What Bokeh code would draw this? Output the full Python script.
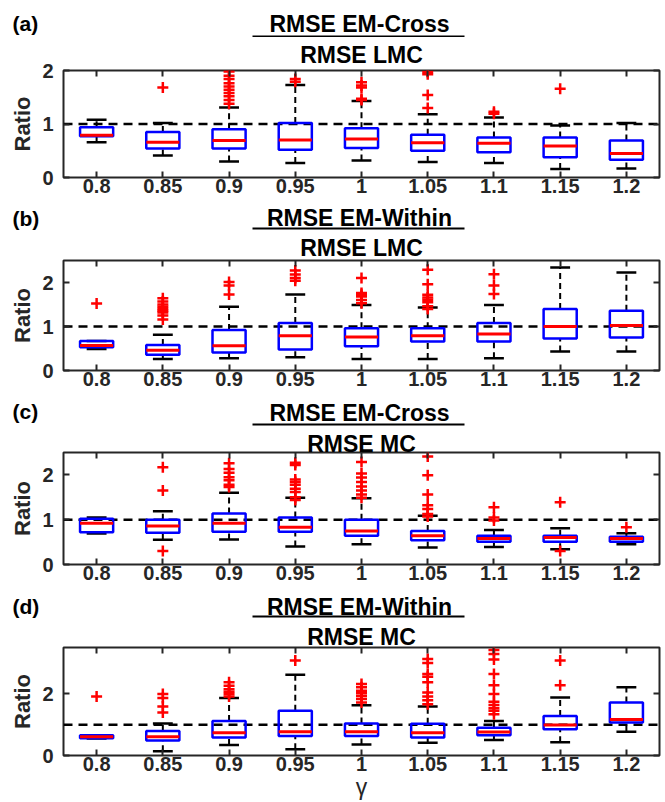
from bokeh.plotting import figure
from bokeh.layouts import column
from bokeh.models import Range1d, FixedTicker, LinearAxis, Label, Span
from bokeh.embed import file_html
from bokeh.resources import INLINE

gammas = ["0.8", "0.85", "0.9", "0.95", "1", "1.05", "1.1", "1.15", "1.2"]

# Panel (a): RMSE EM-Cross / RMSE LMC
a_low = [0.66, 0.41, 0.30, 0.27, 0.32, 0.29, 0.27, 0.16, 0.17]
a_q1 = [0.77, 0.54, 0.54, 0.52, 0.55, 0.50, 0.47, 0.38, 0.33]
a_med = [0.79, 0.66, 0.69, 0.70, 0.72, 0.65, 0.64, 0.59, 0.45]
a_q3 = [0.94, 0.85, 0.90, 1.02, 0.92, 0.80, 0.75, 0.75, 0.69]
a_high = [1.08, 1.02, 1.31, 1.73, 1.43, 1.18, 1.12, 0.97, 1.02]
a_out = [[], [1.68], [1.98, 1.90, 1.84, 1.76, 1.70, 1.64, 1.58, 1.52, 1.45, 1.38],
         [1.84, 1.79], [1.78, 1.72, 1.68, 1.47, 1.45], [1.97, 1.93, 1.54, 1.30],
         [1.23, 1.19], [1.66], []]

# Panel (b): RMSE EM-Within / RMSE LMC
b_low = [0.49, 0.26, 0.28, 0.30, 0.26, 0.26, 0.28, 0.43, 0.43]
b_q1 = [0.53, 0.36, 0.41, 0.48, 0.55, 0.66, 0.66, 0.73, 0.75]
b_med = [0.57, 0.46, 0.56, 0.79, 0.76, 0.79, 0.83, 1.00, 1.02]
b_q3 = [0.67, 0.58, 0.92, 1.08, 0.96, 0.96, 1.08, 1.40, 1.36]
b_high = [0.67, 0.81, 1.45, 1.73, 1.49, 1.43, 1.49, 2.34, 2.23]
b_out = [[1.52], [1.64, 1.57, 1.50, 1.45, 1.40, 1.36, 1.32, 1.25, 1.16], [2.01, 1.93, 1.73],
         [2.27, 2.18, 2.10, 2.04], [2.10, 1.76, 1.72, 1.68, 1.60, 1.53],
         [2.29, 1.96, 1.72, 1.66, 1.61, 1.55, 1.46, 1.40], [2.19, 1.93, 1.74], [], []]

# Panel (c): RMSE EM-Cross / RMSE MC
c_low = [0.69, 0.55, 0.56, 0.40, 0.45, 0.38, 0.39, 0.34, 0.45]
c_q1 = [0.72, 0.71, 0.73, 0.73, 0.64, 0.54, 0.51, 0.51, 0.51]
c_med = [0.92, 0.86, 0.92, 0.83, 0.75, 0.64, 0.58, 0.60, 0.58]
c_q3 = [1.02, 1.00, 1.14, 1.05, 1.00, 0.75, 0.64, 0.64, 0.62]
c_high = [1.05, 1.19, 1.60, 1.49, 1.48, 1.09, 0.77, 0.81, 0.70]
c_out = [[], [2.17, 1.65, 0.30], [2.26, 2.13, 2.05, 1.95, 1.88, 1.78, 1.73],
         [2.27, 2.22, 1.90, 1.84, 1.78, 1.69, 1.62, 1.50, 1.44],
         [2.29, 2.03, 1.94, 1.84, 1.74, 1.65, 1.56, 1.49],
         [2.41, 1.99, 1.56, 1.32, 1.24, 1.13, 1.07], [1.28, 1.05, 0.98], [1.39, 0.30], [0.83]]

# Panel (d): RMSE EM-Within / RMSE MC
d_low = [0.55, 0.14, 0.34, 0.20, 0.36, 0.41, 0.50, 0.43, 0.77]
d_q1 = [0.56, 0.49, 0.58, 0.63, 0.63, 0.58, 0.66, 0.85, 1.07]
d_med = [0.61, 0.61, 0.74, 0.77, 0.77, 0.74, 0.76, 0.99, 1.17]
d_q3 = [0.66, 0.79, 1.12, 1.45, 1.04, 1.03, 0.90, 1.28, 1.72]
d_high = [0.66, 1.04, 1.86, 2.62, 1.63, 1.59, 1.12, 1.88, 2.21]
d_out = [[1.91], [1.99, 1.86, 1.59, 1.39], [2.37, 2.26, 2.15, 2.07, 1.99, 1.91], [3.08],
         [2.32, 2.21, 2.10, 2.02, 1.93, 1.83, 1.72],
         [3.13, 3.00, 2.64, 2.55, 2.37, 2.04, 1.91, 1.79, 1.66],
         [3.42, 3.29, 3.11, 2.64, 2.28, 1.99, 1.74, 1.64, 1.53, 1.45, 1.34], [3.08, 2.28], []]

FONT = "Liberation Sans"
AX = "#262626"
W = 665
FL = 63
FW = 596
FR = W - FL - FW
BOXW = 0.5
CAPW = 0.3


def blank(height):
    p = figure(width=W, height=height, x_range=Range1d(0, W), y_range=Range1d(height, 0),
               min_border_left=0, min_border_right=0, min_border_top=0, min_border_bottom=0,
               x_axis_type=None, y_axis_type=None, output_backend="svg",
               toolbar_location=None, tools="")
    try:
        p.frame_align = False
    except Exception:
        pass
    p.outline_line_color = None
    p.xgrid.visible = False
    p.ygrid.visible = False
    return p


def header(height, tag, num, y1, yl, yt):
    p = blank(height)
    p.add_layout(Label(x=359, y=y1, text=num, text_align="center",
                       text_baseline="middle", text_font=FONT,
                       text_font_style="bold", text_font_size="23px",
                       text_color="black"))
    p.segment(x0=[252], x1=[464], y0=[yl], y1=[yl], line_color="black", line_width=2)
    p.add_layout(Label(x=12, y=yt, text=tag, text_align="left", text_baseline="middle",
                       text_font=FONT, text_font_style="bold", text_font_size="21px",
                       text_color="black"))
    return p


def box_panel(den, low, q1, med, q3, high, outs, ymax, yticks, top_b, frame_h, bot_b,
              den_standoff, xlabel=None):
    p = figure(frame_width=FW, frame_height=frame_h, min_border_left=FL,
               min_border_right=FR, min_border_top=top_b, min_border_bottom=bot_b,
               x_range=Range1d(0.5, 9.5), y_range=Range1d(0, ymax),
               output_backend="svg", toolbar_location=None, tools="")
    p.outline_line_color = AX
    p.outline_line_width = 2
    p.xgrid.visible = False
    p.ygrid.visible = False

    xs = [i + 1 for i in range(len(gammas))]
    overrides = {x: g for x, g in zip(xs, gammas)}

    for ax in p.xaxis:
        ax.ticker = FixedTicker(ticks=xs)
        ax.major_label_overrides = overrides
    for ax in p.yaxis:
        ax.ticker = FixedTicker(ticks=yticks)
    for ax in list(p.xaxis) + list(p.yaxis):
        ax.axis_line_color = None
        ax.major_tick_in = 6
        ax.major_tick_out = 0
        ax.major_tick_line_width = 2
        ax.major_tick_line_color = AX
        ax.minor_tick_line_color = None
        ax.major_label_text_font = FONT
        ax.major_label_text_font_style = "bold"
        ax.major_label_text_font_size = "20px"
        ax.major_label_text_color = AX
    p.xaxis.major_label_standoff = 1
    if xlabel:
        p.xaxis.axis_label = xlabel
        p.xaxis.axis_label_text_font = FONT
        p.xaxis.axis_label_text_font_style = "normal"
        p.xaxis.axis_label_text_font_size = "23px"
        p.xaxis.axis_label_text_color = AX
        p.xaxis.axis_label_standoff = 0
    p.yaxis.major_label_standoff = 10
    p.yaxis.axis_label = "Ratio"
    p.yaxis.axis_label_text_font = FONT
    p.yaxis.axis_label_text_font_style = "bold"
    p.yaxis.axis_label_text_font_size = "22px"
    p.yaxis.axis_label_text_color = AX
    p.yaxis.axis_label_standoff = 4

    top = LinearAxis(ticker=FixedTicker(ticks=xs), axis_line_color=None,
                     major_tick_in=6, major_tick_out=0, major_tick_line_width=2,
                     major_tick_line_color=AX, minor_tick_line_color=None,
                     major_label_overrides={x: "" for x in xs},
                     major_label_text_font_size="1px", major_label_standoff=0,
                     axis_label=den, axis_label_text_font=FONT,
                     axis_label_text_font_style="bold", axis_label_text_font_size="23px",
                     axis_label_text_color="black", axis_label_standoff=den_standoff)
    right = LinearAxis(ticker=FixedTicker(ticks=yticks), axis_line_color=None,
                       major_tick_in=6, major_tick_out=0, major_tick_line_width=2,
                       major_tick_line_color=AX, minor_tick_line_color=None,
                       major_label_overrides={y: "" for y in yticks},
                       major_label_text_font_size="1px", major_label_standoff=0)
    p.add_layout(top, "above")
    p.add_layout(right, "right")

    p.add_layout(Span(location=1, dimension="width", line_color="black",
                      line_width=2.5, line_dash="9 6", level="underlay"))

    p.segment(x0=xs, x1=xs, y0=q3, y1=high, line_color="black", line_width=2,
              line_dash="6 4")
    p.segment(x0=xs, x1=xs, y0=low, y1=q1, line_color="black", line_width=2,
              line_dash="6 4")
    cx0 = [x - CAPW / 2 for x in xs]
    cx1 = [x + CAPW / 2 for x in xs]
    p.segment(x0=cx0, x1=cx1, y0=high, y1=high, line_color="black", line_width=2.5)
    p.segment(x0=cx0, x1=cx1, y0=low, y1=low, line_color="black", line_width=2.5)

    p.vbar(x=xs, width=BOXW, bottom=q1, top=q3, fill_color=None,
           line_color="#0000FF", line_width=2.5)
    mx0 = [x - BOXW / 2 for x in xs]
    mx1 = [x + BOXW / 2 for x in xs]
    p.segment(x0=mx0, x1=mx1, y0=med, y1=med, line_color="#FF0000", line_width=3)

    ox, oy = [], []
    for x, vals in zip(xs, outs):
        for v in vals:
            ox.append(x)
            oy.append(v)
    p.scatter(x=ox, y=oy, marker="cross", size=11, line_color="#FF0000",
              line_width=2.5)
    return p


ha = header(37, "(a)", "RMSE EM-Cross", 23, 36, 23)
pa = box_panel("RMSE LMC", a_low, a_q1, a_med, a_q3, a_high, a_out, 2.0, [0, 1, 2],
               33, 107, 28, 3)
hb = header(25, "(b)", "RMSE EM-Within", 12, 23, 13)
pb = box_panel("RMSE LMC", b_low, b_q1, b_med, b_q3, b_high, b_out, 2.5, [0, 1, 2],
               30, 110, 28, 0)
hc = header(28, "(c)", "RMSE EM-Cross", 14, 26, 13)
pc = box_panel("RMSE MC", c_low, c_q1, c_med, c_q3, c_high, c_out, 2.5, [0, 1, 2],
               26, 112, 28, -4)
hd = header(27, "(d)", "RMSE EM-Within", 14, 24, 14)
pd = box_panel("RMSE MC", d_low, d_q1, d_med, d_q3, d_high, d_out, 3.5, [0, 2],
               28, 108, 47, -2, xlabel="γ")

layout = column(ha, pa, hb, pb, hc, pc, hd, pd, spacing=0)
open("out.html", "w").write(file_html(layout, INLINE))
